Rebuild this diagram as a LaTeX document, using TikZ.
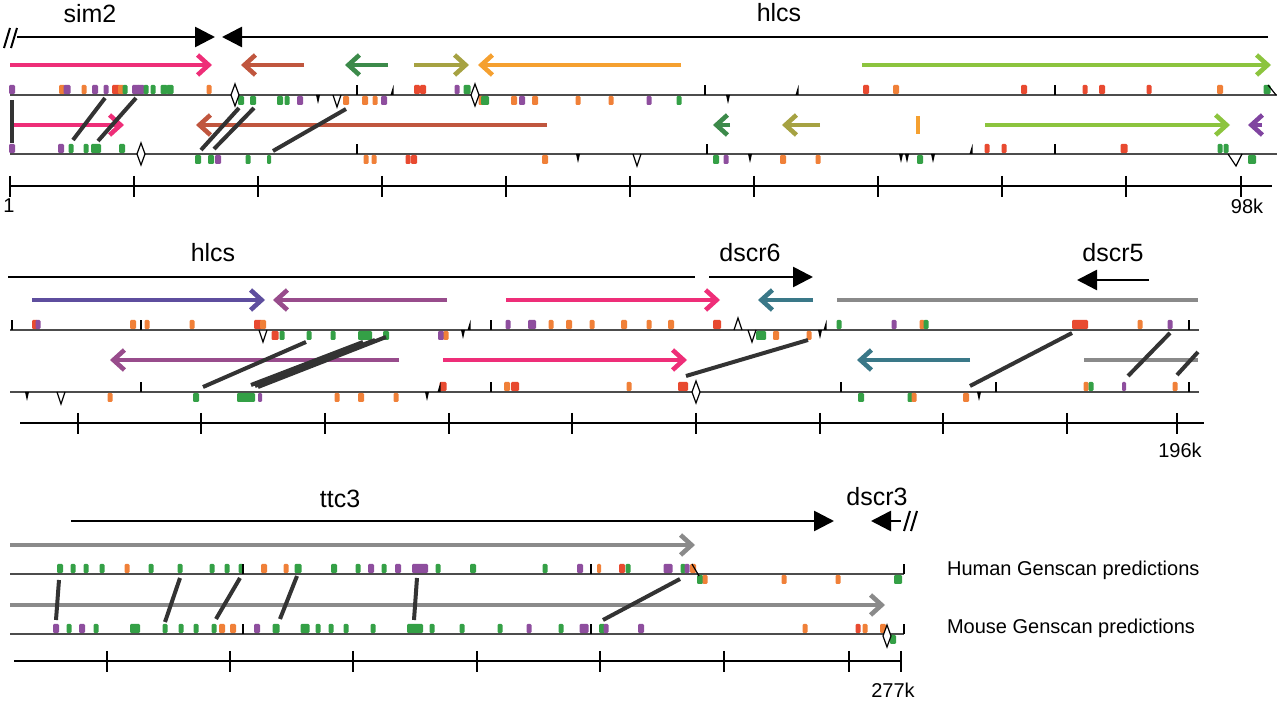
\documentclass[tikz,border=0pt]{standalone}
\usepackage{fontspec}
\setmainfont{Liberation Sans}
\usetikzlibrary{arrows.meta}
\definecolor{exO}{HTML}{F08038}
\definecolor{exR}{HTML}{E84A30}
\definecolor{exP}{HTML}{8E4E9E}
\definecolor{exG}{HTML}{34A046}
\definecolor{cPink}{HTML}{EE2E78}
\definecolor{cBrown}{HTML}{C0563E}
\definecolor{cGreen}{HTML}{3C8A4A}
\definecolor{cOlive}{HTML}{A6A242}
\definecolor{cOrange}{HTML}{F5A030}
\definecolor{cLime}{HTML}{8CC43E}
\definecolor{cBlue}{HTML}{5E4E9E}
\definecolor{cMauve}{HTML}{984C8C}
\definecolor{cTeal}{HTML}{3A7888}
\definecolor{cGray}{HTML}{8A8A8A}
\definecolor{cViolet}{HTML}{8044A0}
% exons: #1 baseline, #2 direction (-1 above, 1 below), #3 list x/width/colour
\newcommand{\exons}[3]{\foreach \x/\w/\c in {#3}
  \fill[\c, rounded corners=0.6pt] (\x-\w/2-1,#1+#2) rectangle (\x+\w/2+1,#1+#2*10);}
\begin{document}
\begin{tikzpicture}[x=0.5pt,y=-0.5pt,
  gene/.style={line width=1.3pt, -{Triangle[length=10pt,width=10pt]}},
  pred/.style={line width=2.3pt, -{Straight Barb[length=5.5pt,width=10pt]}},
  seq/.style={line width=0.7pt, black!70},
  tk/.style={line width=0.6pt},
  dline/.style={line width=2pt, black!80},
  scalebar/.style={line width=1pt},
  glabel/.style={font=\fontsize{12.5}{15}\selectfont, anchor=base},
  slabel/.style={font=\fontsize{10}{12}\selectfont}]
\useasboundingbox (0,0) rectangle (1280,704);

%%% panel 1
\node[glabel] (sim2) at (90,23) {sim2};
\node[glabel] (hlcsA) at (779,22) {hlcs};
\draw[line width=1pt] (4,48) -- (10,28) (11,48) -- (17,28);
\draw[gene] (17,37) -- (215,37);
\draw[gene] (1268,37) -- (222,37);
% human predictions
\draw[pred, cPink] (10,65) -- (212,65);
\draw[pred, cBrown] (304,65) -- (241,65);
\draw[pred, cGreen] (388,65) -- (345,65);
\draw[pred, cOlive] (414,65) -- (469,65);
\draw[pred, cOrange] (681,65) -- (478,65);
\draw[pred, cLime] (862,65) -- (1271,65);
% mouse predictions
\draw[pred, cPink] (14,125) -- (124,125);
\draw[dline] (12,100) -- (12,143);
\draw[pred, cBrown] (547,125) -- (196,125);
\draw[pred, cGreen] (730,125) -- (713,125);
\draw[pred, cOlive] (820,125) -- (782,125);
\draw[line width=2pt, cOrange] (918,116) -- (918,134);
\draw[pred, cLime] (985,125) -- (1230,125);
\draw[pred, cViolet] (1262,125) -- (1248,125);
% sequences
\draw[seq] (10,95) -- (1277,95);
\draw[seq] (10,154) -- (1277,154);
\exons{95}{-1}{12/4/exP, 62/4/exO, 67/5/exP, 84/3/exO, 95/4/exP, 106/3/exP, 116/6/exR, 121/4/exO, 125/3/exG, 136/6/exP, 141/5/exP, 146/3/exG, 153/3/exG, 164/5/exG, 170/5/exG, 209/3/exO, 417/4/exR, 423/4/exR, 457/3/exP, 467/5/exG, 866/4/exR, 896/4/exO, 1024/4/exR, 1085/3/exR, 1102/4/exR, 1149/3/exR, 1220/4/exO, 1267/5/exG}
\exons{95}{1}{241/4/exG, 253/4/exG, 280/4/exG, 287/3/exG, 300/4/exP, 346/4/exO, 365/4/exO, 375/3/exO, 384/4/exP, 481/3/exO, 485/6/exG, 514/4/exO, 522/4/exP, 535/4/exO, 578/3/exO, 611/3/exO, 649/3/exP, 679/3/exG}
\exons{154}{-1}{12/4/exP, 61/4/exP, 71/3/exG, 86/3/exG, 94/4/exG, 98/4/exG, 122/4/exG, 987/3/exR, 1004/3/exR, 1124/5/exR, 1220/3/exG, 1226/3/exG}
\exons{154}{1}{198/4/exG, 211/4/exG, 218/4/exP, 248/3/exG, 269/2/exG, 366/3/exO, 374/3/exO, 408/3/exR, 414/4/exR, 545/4/exO, 716/4/exG, 726/3/exP, 783/4/exO, 818/3/exO, 920/4/exG, 1252/6/exG}
% alignments
\draw[dline] (105,98) -- (73,140) (136,98) -- (98,141) (239,108) -- (201,150)
  (254,108) -- (214,149) (346,109) -- (273,151);
% scale
\draw[scalebar] (10,186) -- (1272,186);
\foreach \x in {10,134,258,382,506,630,754,878,1002,1126,1241}
  \draw[scalebar] (\x,176) -- (\x,197);
\node[slabel] (one) at (9,206) {1};
\node[slabel] (k98) at (1247,206) {98k};

%%% panel 2
\node[glabel] (hlcsB) at (213,262) {hlcs};
\node[glabel] (dscr6) at (750,262) {dscr6};
\node[glabel] (dscr5) at (1113,262) {dscr5};
\draw[line width=1.3pt] (8,277) -- (695,277);
\draw[gene] (709,277) -- (813,277);
\draw[gene] (1149,280) -- (1077,280);
\draw[pred, cBlue] (32,300) -- (265,300);
\draw[pred, cMauve] (447,300) -- (273,300);
\draw[pred, cPink] (506,300) -- (720,300);
\draw[pred, cTeal] (813,300) -- (758,300);
\draw[line width=2.3pt, cGray] (837,300) -- (1198,300);
\draw[pred, cMauve] (399,360) -- (110,360);
\draw[pred, cPink] (443,360) -- (687,360);
\draw[pred, cTeal] (970,360) -- (857,360);
\draw[line width=2.3pt, cGray] (1084,360) -- (1198,360);
\draw[seq] (10,330) -- (1199,330);
\draw[seq] (10,392) -- (1199,392);
\exons{330}{-1}{35/4/exR, 38/3/exP, 133/4/exO, 147/3/exO, 192/3/exO, 258/6/exR, 263/4/exO, 508/3/exP, 532/6/exP, 551/3/exO, 569/4/exO, 592/3/exO, 624/4/exO, 649/3/exO, 671/4/exO, 717/6/exR, 839/3/exG, 894/3/exP, 922/3/exO, 926/3/exG, 1080/14/exR, 1140/3/exO, 1170/3/exP}
\exons{330}{1}{275/5/exR, 282/3/exG, 309/3/exG, 333/3/exG, 365/12/exG, 386/4/exG, 441/4/exP, 446/3/exO, 761/8/exG, 776/4/exO, 809/3/exO}
\exons{392}{-1}{443/5/exR, 507/4/exO, 515/6/exR, 629/3/exO, 683/8/exR, 1086/3/exO, 1091/3/exG, 1124/2/exP, 1175/3/exO}
\exons{392}{1}{110/3/exO, 196/4/exG, 246/16/exG, 260/2/exP, 337/3/exO, 361/4/exO, 396/3/exO, 861/4/exG, 910/3/exG, 914/3/exO, 966/4/exO}
\draw[dline] (306,342) -- (203,387) (363,342) -- (251,385) (375,340) -- (255,386)
  (386,337) -- (258,387) (808,340) -- (686,376) (1072,333) -- (970,386)
  (1170,333) -- (1128,376) (1198,352) -- (1177,375);
\draw[scalebar] (20,423) -- (1204,423);
\foreach \x in {78,201,325,449,572,696,820,943,1067,1177}
  \draw[scalebar] (\x,413) -- (\x,434);
\node[slabel] (k196) at (1180,450) {196k};

%%% panel 3
\node[glabel] (ttc3) at (340,508) {ttc3};
\node[glabel] (dscr3) at (877,506) {dscr3};
\draw[gene] (71,521) -- (834,521);
\draw[gene] (901,521) -- (871,521);
\draw[line width=1pt] (904,531) -- (910,511) (911,531) -- (917,511);
\draw[pred, cGray] (10,545) -- (695,545);
\draw[pred, cGray] (10,605) -- (885,605);
\draw[seq] (10,574) -- (904,574);
\draw[seq] (10,634) -- (904,634);
\exons{574}{-1}{60/4/exG, 73/3/exG, 86/3/exG, 102/3/exG, 127/3/exO, 151/3/exG, 180/3/exG, 212/3/exG, 227/3/exG, 241/3/exG, 264/4/exO, 286/3/exO, 298/5/exG, 334/4/exG, 358/3/exG, 371/4/exP, 384/3/exG, 398/4/exP, 420/14/exP, 438/3/exG, 473/4/exG, 545/3/exG, 580/4/exP, 599/2/exO, 622/4/exR, 628/3/exG, 668/7/exP, 683/3/exG, 687/3/exP, 693/4/exO}
\exons{574}{1}{700/4/exG, 705/3/exO, 784/3/exO, 838/3/exO, 898/6/exG}
\exons{634}{-1}{56/4/exP, 69/3/exG, 82/4/exP, 96/3/exG, 135/8/exG, 165/3/exG, 181/3/exG, 196/3/exG, 214/3/exG, 222/4/exO, 233/4/exO, 257/4/exP, 276/5/exG, 305/7/exG, 318/3/exG, 331/3/exG, 346/3/exG, 373/3/exG, 415/14/exG, 432/3/exG, 462/3/exG, 500/3/exG, 529/3/exP, 561/3/exG, 584/7/exP, 602/4/exG, 606/3/exP, 641/4/exP, 805/3/exO, 858/3/exR, 865/3/exO, 883/4/exO}
\exons{634}{1}{893/4/exG}
\draw[dline] (59,580) -- (56,620) (180,578) -- (165,622) (240,578) -- (216,619)
  (297,576) -- (280,619) (417,578) -- (414,620) (680,579) -- (603,620);
\draw[scalebar] (14,661) -- (901,661);
\foreach \x in {107,230,353,477,600,724,849,901}
  \draw[scalebar] (\x,651) -- (\x,672);
\node[slabel] (k277) at (893,690) {277k};
\node[slabel, anchor=west] (hgen) at (940,570) {Human Genscan predictions};
\node[slabel, anchor=west] (mgen) at (940,628) {Mouse Genscan predictions};

%%% markers on the sequences
\foreach \x/\y in {357/95, 705/95, 1055/95, 357/154, 707/154, 1055/154, 12/330, 141/330,
  491/330, 1189/330, 141/392, 491/392, 841/392, 996/392, 1189/392, 243/574, 591/574,
  904/574, 243/634, 591/634, 904/634}
  \draw[tk] (\x,\y) -- (\x,\y-10);
\foreach \x/\y in {318/95, 728/95, 578/154, 750/154, 901/154, 907/154, 933/154,
  463/330, 820/330, 27/392, 427/392, 979/392}
  \fill (\x-2,\y) -- (\x+2,\y) -- (\x,\y+9) -- cycle;
\foreach \x/\y in {392/95, 797/95, 971/154, 469/330, 825/330, 439/392}
  \fill (\x-1.5,\y) -- (\x+1.5,\y) -- (\x+1.5,\y-10) -- cycle;
\foreach \x/\y in {337/95, 637/154, 61/392, 263/330, 752/330}
  \draw[tk] (\x-4,\y) -- (\x,\y+12) -- (\x+4,\y);
\draw[tk] (734,330) -- (738,318) -- (742,330);
\draw[tk] (1228,154) -- (1236,166) -- (1242,154);
\draw[tk] (1268,85) -- (1276,95);
\draw[tk] (692,564) -- (699,576);
\foreach \x/\y in {235/95, 475/95, 141/154, 696/392, 887/636}
  \draw[tk, fill=white] (\x,\y-11) -- (\x+4,\y) -- (\x,\y+11) -- (\x-4,\y) -- cycle;
\end{tikzpicture}
\end{document}
